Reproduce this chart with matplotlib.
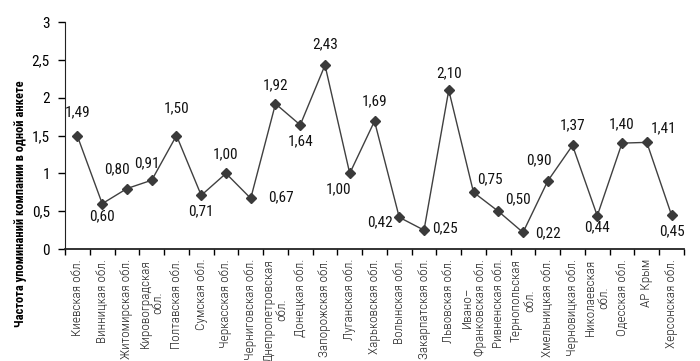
import matplotlib
matplotlib.use("Agg")
import matplotlib.pyplot as plt
from matplotlib.ticker import FixedLocator, FuncFormatter

plt.rcParams['font.family'] = ['Roboto Condensed', 'DejaVu Sans']

# Regions and mention frequency per questionnaire
regions = [
    "Киевская обл.", "Винницкая обл.", "Житомирская обл.", "Кировоградская\nобл.",
    "Полтавская обл.", "Сумская обл.", "Черкасская обл.", "Черниговская обл.",
    "Днепропетровская\nобл.", "Донецкая обл.", "Запорожская обл.", "Луганская обл.",
    "Харьковская обл.", "Волынская обл.", "Закарпатская обл.", "Львовская обл.",
    "Ивано–\nФранковская обл.", "Ривненская обл.", "Тернопольская\nобл.",
    "Хмельницкая обл.", "Черновицкая обл.", "Николаевская\nобл.", "Одесская обл.",
    "АР Крым", "Херсонская обл.",
]
values = [1.49, 0.60, 0.80, 0.91, 1.50, 0.71, 1.00, 0.67, 1.92, 1.64, 2.43, 1.00,
          1.69, 0.42, 0.25, 2.10, 0.75, 0.50, 0.22, 0.90, 1.37, 0.44, 1.40, 1.41, 0.45]
y_ticks = [0, 0.5, 1, 1.5, 2, 2.5, 3]

# label offsets in pixels (dx, dy)
label_offsets = [(0, 24), (0, -13), (-10, 19), (-5, 17), (0, 27), (0, -16), (0, 19),
                 (30, 1), (0, 18), (0, -16), (0, 21), (-11, -16), (0, 20), (-19, -5),
                 (21, 2), (0, 17), (16, 13), (20, 12), (25, -1), (-9, 21), (0, 20),
                 (0, -12), (0, 19), (17, 14), (0, -16)]

fig = plt.figure(figsize=(7, 3.61), dpi=100)
ax = fig.add_axes([0.093, 0.31, 0.884, 0.629])

x = list(range(len(values)))
ax.plot(x, values, color='#404040', lw=1, marker='D', markersize=5.5,
        markerfacecolor='#3a3a3a', markeredgecolor='#3a3a3a')

for xi, v, (dx, dy) in zip(x, values, label_offsets):
    ax.annotate(f"{v:.2f}".replace('.', ','), (xi, v), xytext=(dx, dy),
                textcoords='offset pixels', ha='center', va='center',
                fontsize=11, color='#111111')

ax.set_xlim(-0.5, len(values) - 0.5)
ax.set_ylim(0, 3)
ax.set_yticks(y_ticks)
ax.yaxis.set_major_formatter(FuncFormatter(lambda v, p: f"{v:g}".replace('.', ',')))
ax.tick_params(axis='y', labelsize=11, length=5, width=1, direction='out', pad=6)

ax.set_xticks(x)
ax.set_xticklabels(regions, rotation=90, fontsize=9.5, fontweight='light', color='#222222',
                   linespacing=1.0, va='top', ha='center')
ax.tick_params(axis='x', which='major', length=0, pad=7)
ax.xaxis.set_minor_locator(FixedLocator([i - 0.5 for i in range(len(values) + 1)]))
ax.tick_params(axis='x', which='minor', length=4, width=1, direction='out')

for s in ['top', 'right']:
    ax.spines[s].set_visible(False)
ax.spines['left'].set_color('#222222')
ax.spines['bottom'].set_color('#222222')
ax.spines['bottom'].set_linewidth(1.3)

ax.set_ylabel("Частота упоминаний компании в одной анкете", fontsize=9, fontweight='bold')
ax.yaxis.set_label_coords(-0.062, 0.2)

fig.savefig("out.png", dpi=100)
